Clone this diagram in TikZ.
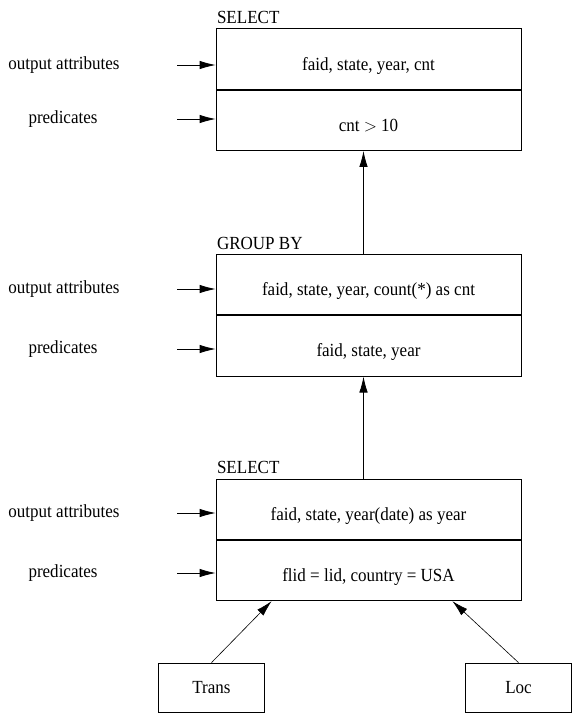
\documentclass[tikz,border=0pt]{standalone}
\usepackage{fontspec}
\setmainfont{Liberation Serif}[FakeStretch=0.92]
\usepackage{tikz}
\usetikzlibrary{arrows.meta,positioning}

\begin{document}
\begin{tikzpicture}[x=1pt,y=-1pt,->,>={Latex[length=16pt,width=8.5pt]},line width=0.8pt,
    every node/.style={font=\fontsize{18.5}{22}\selectfont},
    part/.style={draw,-,minimum width=305pt,minimum height=60.5pt,inner sep=0pt,
        text height=26pt,text depth=4pt},
    title/.style={inner xsep=1pt,inner ysep=4pt},
    lbl/.style={inner sep=0pt},
    rel/.style={draw,-,minimum width=106pt,minimum height=49pt,inner sep=0pt}]
        \useasboundingbox (0,0) rectangle (572,713);
        %\draw[help lines] (0,0) grid[step=50] (572,713);

        % top SELECT block
        \node[part] (selAout) at (368.5,59) {faid, state, year, cnt};
        \node[part] (selApred) [below=0pt of selAout] {cnt $>$ 10};
        \node[title] (selAtitle) [above right=0pt of selAout.north west] {SELECT};

        % GROUP BY block
        \node[part] (grpout) [below=103pt of selApred] {faid, state, year, count(*) as cnt};
        \node[part] (grppred) [below=0pt of grpout] {faid, state, year};
        \node[title] (grptitle) [above right=0pt of grpout.north west] {GROUP BY};

        % bottom SELECT block
        \node[part] (selBout) [below=102pt of grppred] {faid, state, year(date) as year};
        \node[part] (selBpred) [below=0pt of selBout] {flid = lid, country = USA};
        \node[title] (selBtitle) [above right=0pt of selBout.north west] {SELECT};

        \node[rel] (trans) at (211.5,687.5) {Trans};
        \node[rel] (loc) at (518.5,687.5) {Loc};

        % side labels
        \node[lbl] (oaA) at (64,65) {output attributes};
        \node[lbl] (prA) at (63,119) {predicates};
        \node[lbl] (oaG) at (64,289) {output attributes};
        \node[lbl] (prG) at (63,349) {predicates};
        \node[lbl] (oaB) at (64,513) {output attributes};
        \node[lbl] (prB) at (63,573) {predicates};

        \coordinate (oaAin) at (177,65);
        \coordinate (prAin) at (177,119);
        \coordinate (oaGin) at (177,289);
        \coordinate (prGin) at (177,349);
        \coordinate (oaBin) at (177,513);
        \coordinate (prBin) at (177,573);
        \coordinate (transin) at ([xshift=56pt]selBpred.south west);
        \coordinate (locin) at ([xshift=-69pt]selBpred.south east);

        \draw (oaAin) -- (oaAin -| selAout.west);
        \draw (prAin) -- (prAin -| selApred.west);
        \draw (oaGin) -- (oaGin -| grpout.west);
        \draw (prGin) -- (prGin -| grppred.west);
        \draw (oaBin) -- (oaBin -| selBout.west);
        \draw (prBin) -- (prBin -| selBpred.west);

        \draw ([xshift=-5pt]grpout.north) -- ([xshift=-5pt]selApred.south);
        \draw ([xshift=-5pt]selBout.north) -- ([xshift=-5pt]grppred.south);
        \draw[line width=0.6pt] (trans.north) -- (transin);
        \draw[line width=0.6pt] (loc.north) -- (locin);
    \end{tikzpicture}
\end{document}
